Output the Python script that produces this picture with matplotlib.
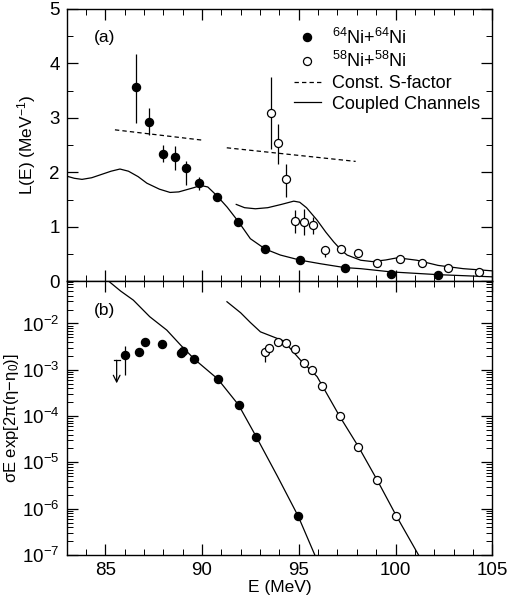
import matplotlib
matplotlib.use("Agg")
import matplotlib.pyplot as plt
import numpy as np
from matplotlib.ticker import MultipleLocator, LogLocator, NullFormatter, FixedLocator

plt.rc('font', family=['Liberation Sans', 'DejaVu Sans'], size=12)
plt.rc('mathtext', fontset='custom', rm='Liberation Sans', it='Liberation Sans:italic')

# ---- panel (a): L(E) ----
e64_a = [86.59, 87.25, 87.97, 88.60, 89.18, 89.84, 90.77, 91.88, 93.24, 95.09, 97.38, 99.79, 102.2]
l64_a = [3.56, 2.93, 2.34, 2.28, 2.07, 1.80, 1.55, 1.09, 0.60, 0.385, 0.25, 0.14, 0.12]
l64_lo = [2.91, 2.68, 2.18, 2.05, 1.76, 1.67, 1.55, 1.09, 0.60, 0.385, 0.25, 0.14, 0.12]
l64_hi = [4.17, 3.18, 2.50, 2.49, 2.21, 1.91, 1.55, 1.09, 0.60, 0.385, 0.25, 0.14, 0.12]

e58_a = [93.57, 93.93, 94.35, 94.81, 95.26, 95.73, 96.36, 97.16, 98.08, 99.06, 100.22, 101.39, 102.69, 104.33]
l58_a = [3.09, 2.54, 1.87, 1.11, 1.09, 1.03, 0.58, 0.59, 0.52, 0.34, 0.40, 0.34, 0.25, 0.17]
l58_lo = [2.42, 2.16, 1.55, 0.89, 0.84, 0.87, 0.45, 0.59, 0.52, 0.34, 0.40, 0.34, 0.25, 0.17]
l58_hi = [3.75, 2.89, 2.16, 1.30, 1.32, 1.18, 0.58, 0.59, 0.52, 0.34, 0.40, 0.34, 0.25, 0.17]

# constant S-factor (two pieces)
sf1_e = [85.5, 90.03]
sf1_l = [2.78, 2.59]
sf2_e = [91.28, 97.94]
sf2_l = [2.45, 2.20]

# coupled channels, 64Ni+64Ni
cc64_e = [83.0, 83.4, 83.8, 84.3, 84.8, 85.3, 85.76, 86.2, 86.7, 87.15, 87.8, 88.35, 88.8,
          89.2, 89.6, 89.92, 90.3, 90.77, 91.3, 91.89, 92.5, 93.27, 94.05, 95.09, 96.13,
          97.37, 98.2, 99.79, 102.2, 105.0]
cc64_l = [1.93, 1.89, 1.87, 1.90, 1.96, 2.02, 2.06, 2.02, 1.92, 1.80, 1.69, 1.63, 1.64,
          1.68, 1.72, 1.76, 1.73, 1.57, 1.36, 1.09, 0.78, 0.59, 0.48, 0.385, 0.32,
          0.25, 0.23, 0.17, 0.12, 0.08]

# coupled channels, 58Ni+58Ni
cc58_e = [91.77, 92.2, 92.76, 93.4, 94.1, 94.74, 95.05, 95.4, 95.95, 96.4, 96.81, 97.2, 97.5,
          98.2, 98.8, 99.5, 100.1, 101.1, 102.2, 103.5, 105.0]
cc58_l = [1.41, 1.35, 1.33, 1.35, 1.41, 1.47, 1.45, 1.35, 1.12, 0.90, 0.72, 0.57, 0.48,
          0.385, 0.36, 0.39, 0.43, 0.385, 0.29, 0.23, 0.19]

# ---- panel (b): sigma E exp[2pi(eta-eta0)] ----
e64_b = [86.02, 86.73, 87.04, 87.92, 88.92, 89.03, 89.61, 90.82, 91.89, 92.80, 94.97]
s64_b = [2.06e-3, 2.45e-3, 3.9e-3, 3.67e-3, 2.3e-3, 2.6e-3, 1.69e-3, 6.3e-4, 1.74e-4, 3.6e-5, 6.9e-7]
s64_lo = [7.8e-4, 2.1e-3, 3.9e-3, 3.67e-3, 2.3e-3, 2.6e-3, 1.69e-3, 6.3e-4, 1.74e-4, 3.6e-5, 6.9e-7]
s64_hi = [3.2e-3, 2.8e-3, 3.9e-3, 3.67e-3, 2.3e-3, 2.6e-3, 1.69e-3, 6.3e-4, 1.74e-4, 3.6e-5, 6.9e-7]

e58_b = [93.27, 93.48, 93.93, 94.35, 94.79, 95.26, 95.71, 96.18, 97.12, 98.08, 99.06, 100.05]
s58_b = [2.39e-3, 2.9e-3, 3.9e-3, 3.85e-3, 2.86e-3, 1.38e-3, 1.0e-3, 4.5e-4, 9.8e-5, 2.2e-5, 4.1e-6, 6.9e-7]
s58_lo = [1.5e-3, 2.9e-3, 3.9e-3, 3.85e-3, 2.86e-3, 1.38e-3, 1.0e-3, 4.5e-4, 9.8e-5, 2.2e-5, 4.1e-6, 6.9e-7]

# upper limit
ul_e = 85.59
ul_top = 1.6e-3
ul_tip = 5.1e-4

cc64b_e = [85.16, 85.8, 86.45, 87.3, 88.18, 88.9, 89.61, 90.82, 91.89, 92.80, 93.9, 94.97, 95.83]
cc64b_s = [8.3e-2, 5.0e-2, 3.2e-2, 1.4e-2, 7.2e-3, 3.4e-3, 1.69e-3, 6.3e-4, 1.74e-4, 3.6e-5, 5.0e-6, 6.9e-7, 1.0e-7]

cc58b_e = [91.29, 92.0, 92.5, 93.02, 94.22, 95.1, 95.95, 97.12, 98.08, 99.06, 100.05, 101.19]
cc58b_s = [2.95e-2, 1.7e-2, 1.05e-2, 6.6e-3, 4.2e-3, 1.6e-3, 7.1e-4, 9.8e-5, 2.2e-5, 4.1e-6, 6.9e-7, 1.0e-7]

fig = plt.figure(figsize=(5.08, 5.97), dpi=100)
ax_a = fig.add_axes([0.131, 0.529, 0.838, 0.456])
ax_b = fig.add_axes([0.131, 0.0704, 0.838, 0.4586])

lw = 0.9
ms = 5.8

# (a)
ax_a.plot(cc64_e, cc64_l, '-', color='black', lw=lw, label='Coupled Channels')
ax_a.plot(cc58_e, cc58_l, '-', color='black', lw=lw)
ax_a.plot(sf1_e, sf1_l, '--', color='black', lw=lw, dashes=(3.5, 2.5), label='Const. S-factor')
ax_a.plot(sf2_e, sf2_l, '--', color='black', lw=lw, dashes=(3.5, 2.5))
ax_a.vlines(e64_a, l64_lo, l64_hi, color='black', lw=lw)
ax_a.vlines(e58_a, l58_lo, l58_hi, color='black', lw=lw)
ax_a.plot(e64_a, l64_a, 'o', color='black', ms=ms, label='$^{64}$Ni+$^{64}$Ni')
ax_a.plot(e58_a, l58_a, 'o', mfc='white', mec='black', mew=0.9, ms=ms, label='$^{58}$Ni+$^{58}$Ni')

h, lab = ax_a.get_legend_handles_labels()
order = [2, 3, 1, 0]
ax_a.legend([h[i] for i in order], [lab[i] for i in order], loc='upper right',
            bbox_to_anchor=(1.005, 0.985), frameon=False, handlelength=1.5,
            handletextpad=0.6, labelspacing=0.2, borderpad=0.3, fontsize=13)

ax_a.set_xlim(83, 105)
ax_a.set_ylim(0, 5)
ax_a.yaxis.set_major_locator(MultipleLocator(1))
ax_a.yaxis.set_minor_locator(MultipleLocator(0.5))
ax_a.set_ylabel('L(E) (MeV$^{-1}$)', fontsize=12.5, labelpad=8)
ax_a.text(0.065, 0.88, '(a)', transform=ax_a.transAxes, fontsize=12.5)
ax_a.tick_params(labelbottom=False)

# (b)
ax_b.plot(cc64b_e, cc64b_s, '-', color='black', lw=lw)
ax_b.plot(cc58b_e, cc58b_s, '-', color='black', lw=lw)
ax_b.vlines(e64_b, s64_lo, s64_hi, color='black', lw=lw)
ax_b.vlines(e58_b, s58_lo, s58_b, color='black', lw=lw)
ax_b.plot(e64_b, s64_b, 'o', color='black', ms=ms)
ax_b.plot(e58_b, s58_b, 'o', mfc='white', mec='black', mew=0.9, ms=ms)
ax_b.annotate('', xy=(ul_e, ul_tip), xytext=(ul_e, ul_top),
              arrowprops=dict(arrowstyle='->', color='black', lw=lw, shrinkA=0, shrinkB=0))
ax_b.plot([ul_e - 0.15, ul_e + 0.15], [ul_top, ul_top], '-', color='black', lw=lw)

ax_b.set_yscale('log')
ax_b.set_xlim(83, 105)
ax_b.set_ylim(1e-7, 8.2e-2)
ax_b.yaxis.set_major_locator(FixedLocator([1e-7, 1e-6, 1e-5, 1e-4, 1e-3, 1e-2]))
ax_b.yaxis.set_minor_locator(LogLocator(base=10, subs=np.arange(2, 10), numticks=20))
ax_b.yaxis.set_minor_formatter(NullFormatter())
ax_b.set_ylabel('σE exp[2π(η\u2212η$_0$)]', fontsize=12, labelpad=1)
ax_b.set_xlabel('E (MeV)', fontsize=12.5, labelpad=1)
ax_b.text(0.065, 0.875, '(b)', transform=ax_b.transAxes, fontsize=12.5)

for ax in (ax_a, ax_b):
    ax.xaxis.set_major_locator(MultipleLocator(5))
    ax.xaxis.set_minor_locator(MultipleLocator(1))
    ax.tick_params(which='both', direction='in', top=True, right=True, labelsize=13.5)
    ax.tick_params(which='major', length=8, width=0.9, pad=5)
    ax.tick_params(which='minor', length=4, width=0.7)
    for s in ax.spines.values():
        s.set_linewidth(1.0)

fig.savefig('out.png', dpi=100)
